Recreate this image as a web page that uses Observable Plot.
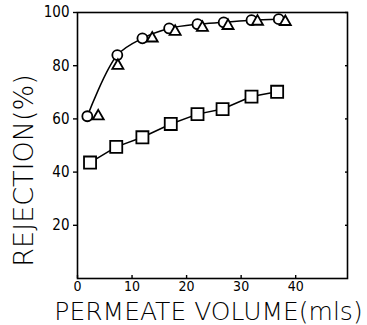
<!DOCTYPE html>
<html>
<head>
<meta charset="utf-8">
<script src="https://cdn.jsdelivr.net/npm/d3@7"></script>
<script src="https://cdn.jsdelivr.net/npm/@observablehq/plot@0.6"></script>
<style>
  html, body { margin: 0; padding: 0; background: #fff; }
</style>
</head>
<body>
<div id="chart"></div>
<script>
// Series
const circleX = [1.8, 7.3, 11.9, 16.8, 22.0, 26.8, 31.9, 36.9];
const circleY = [61, 84, 90.3, 94, 95.6, 96.3, 97.1, 97.5];
const triangleX = [3.8, 7.4, 13.7, 17.9, 22.9, 27.6, 33.0, 38.1];
const triangleY = [61, 80, 90.3, 92.8, 94.3, 95.0, 96.6, 96.5];
const squareX = [2.3, 7.1, 11.9, 17.1, 22.0, 26.6, 31.9, 36.6];
const squareY = [43.6, 49.5, 53.1, 58.1, 61.8, 63.7, 68.4, 70.2];

const xTicks = [0, 10, 20, 30, 40];
const yTicks = [20, 40, 60, 80, 100];
const xTitle = "PERMEATE VOLUME(mls)";
const yTitle = "REJECTION(%)";

const circles = circleX.map((x, i) => ({x, y: circleY[i]}));
const triangles = triangleX.map((x, i) => ({x, y: triangleY[i]}));
const squares = squareX.map((x, i) => ({x, y: squareY[i]}));

const font = "'DejaVu Sans Condensed', 'DejaVu Sans', sans-serif";
const titleFont = "'DejaVu Sans', sans-serif";

const chart = Plot.plot({
  width: 367,
  height: 325,
  marginLeft: 77,
  marginRight: 20,
  marginTop: 12,
  marginBottom: 47,
  x: {domain: [0, 49.5]},
  y: {domain: [0, 100]},
  style: {fontFamily: font, background: "#fff", color: "#000"},
  marks: [
    Plot.frame({stroke: "#000", strokeWidth: 1.6}),
    Plot.axisY(yTicks, {tickSize: 4, tickPadding: 4, fontSize: 15, label: null, strokeWidth: 1.4}),
    Plot.axisY(yTicks, {anchor: "right", tickSize: -3, text: null, label: null, strokeWidth: 1.4}),
    Plot.axisX(xTicks, {tickSize: -3, tickPadding: 6, fontSize: 14, label: null, strokeWidth: 1.4}),
    Plot.line(circles, {x: "x", y: "y", curve: "catmull-rom", stroke: "#000", strokeWidth: 1.5}),
    Plot.line(squares, {x: "x", y: "y", stroke: "#000", strokeWidth: 1.5}),
    Plot.dot(squares, {x: "x", y: "y", symbol: "square", r: 6.8, fill: "#fff", stroke: "#000", strokeWidth: 1.8}),
    Plot.dot(circles, {x: "x", y: "y", symbol: "circle", r: 5, fill: "#fff", stroke: "#000", strokeWidth: 1.8}),
    Plot.dot(triangles, {x: "x", y: "y", symbol: "triangle", r: 4.1, fill: "#fff", stroke: "#000", strokeWidth: 1.8}),
    Plot.text([xTitle], {text: d => d, frameAnchor: "bottom", textAnchor: "middle", lineAnchor: "bottom", dy: 41, dx: -4, fontSize: 25, fontFamily: titleFont, fontWeight: 200, fill: "#000"}),
    Plot.text([yTitle], {text: d => d, frameAnchor: "left", textAnchor: "middle", lineAnchor: "middle", dx: -53, dy: 25, rotate: -90, fontSize: 27, fontFamily: titleFont, fontWeight: 200, fill: "#000"})
  ]
});
document.getElementById("chart").appendChild(chart);
</script>
</body>
</html>
